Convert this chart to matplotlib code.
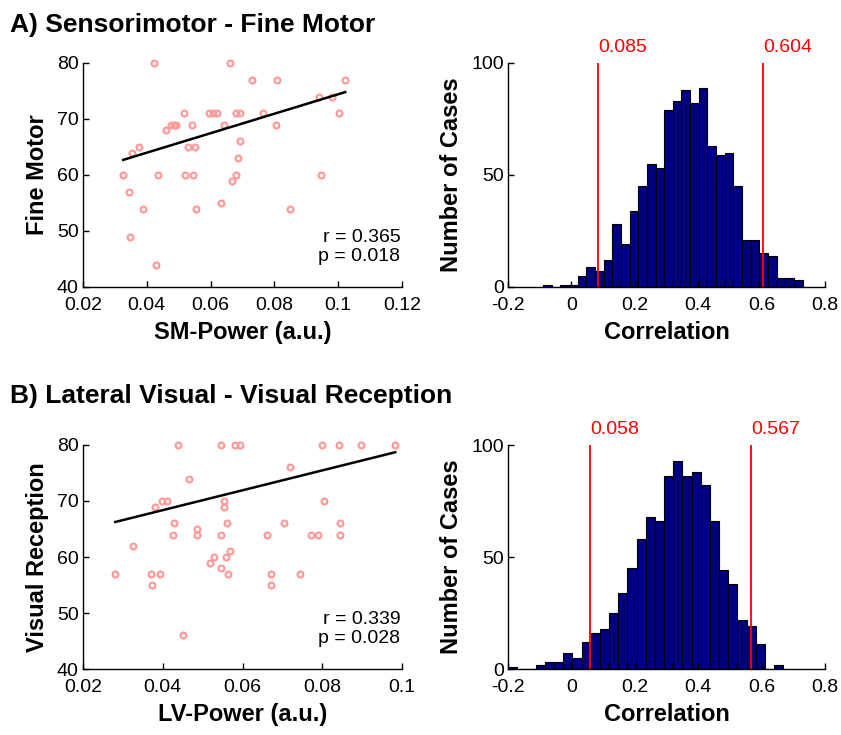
import numpy as np
import matplotlib
matplotlib.use("Agg")
import matplotlib.pyplot as plt

plt.rcParams['font.family'] = ['Liberation Sans', 'DejaVu Sans']

# A) Sensorimotor - Fine Motor : subjects (SM-Power, Fine Motor score)
sm_power = [0.0424, 0.066, 0.0731, 0.0807, 0.1022, 0.0939, 0.098, 0.0516,
            0.0594, 0.0606, 0.0621, 0.0681, 0.0691, 0.0763, 0.1001,
            0.0476, 0.0484, 0.049, 0.0541, 0.0642, 0.0805, 0.0459, 0.0693,
            0.0375, 0.0355, 0.053, 0.055, 0.0685, 0.0326, 0.0434, 0.052,
            0.0546, 0.068, 0.0946, 0.0666, 0.0345, 0.0632, 0.0387, 0.0555,
            0.0849, 0.0346, 0.0429]
fine_motor = [80, 80, 77, 77, 77, 74, 74, 71,
              71, 71, 71, 71, 71, 71, 71,
              69, 69, 69, 69, 69, 69, 68, 66,
              65, 64, 65, 65, 63, 60, 60, 60,
              60, 60, 60, 59, 57, 55, 54, 54,
              54, 49, 44]
fit_a = (173.9, 57.03)  # slope, intercept of the drawn regression line

# B) Lateral Visual - Visual Reception
lv_power = [0.0281, 0.0325, 0.037, 0.0374, 0.0394, 0.038, 0.0398, 0.041,
            0.0427, 0.0426, 0.0439, 0.0452, 0.0465, 0.0486, 0.0486, 0.0518,
            0.0529, 0.0547, 0.0546, 0.0553, 0.0553, 0.0546, 0.0558, 0.056,
            0.0568, 0.0563, 0.058, 0.0593, 0.0662, 0.0671, 0.0672, 0.0703,
            0.0719, 0.0743, 0.0773, 0.079, 0.08, 0.0805, 0.0841, 0.0845,
            0.0845, 0.0897, 0.0983]
visual_rec = [57, 62, 57, 55, 57, 69, 70, 70,
              66, 64, 80, 46, 74, 65, 64, 59,
              60, 80, 64, 70, 69, 58, 60, 66,
              61, 57, 80, 80, 64, 57, 55, 66,
              76, 57, 64, 64, 80, 70, 80, 66,
              64, 80, 80]
fit_b = (177.4, 61.27)

# permutation histograms (30 bins each)
hist_a_range = (-0.0897, 0.7297)
hist_a_counts = [1, 0, 1, 1, 5, 9, 7, 12, 28, 19, 34, 45, 55, 53, 79,
                 83, 88, 82, 89, 63, 59, 60, 45, 21, 21, 15, 14, 4, 4, 3]
hist_a_ci = [0.085, 0.604]

hist_b_range = (-0.199, 0.668)
hist_b_counts = [1, 0, 0, 2, 3, 3, 7, 5, 12, 16, 18, 25, 34, 45, 58,
                 68, 66, 86, 93, 86, 88, 82, 66, 44, 38, 22, 19, 11, 0, 2]
hist_b_ci = [0.058, 0.567]

stats_a = "r = 0.365\np = 0.018"
stats_b = "r = 0.339\np = 0.028"

W, H = 841, 735
fig = plt.figure(figsize=(W / 100, H / 100), dpi=100)

def box(l, t, r, b):
    return [l / W, 1 - b / H, (r - l) / W, (b - t) / H]

TICK = 14
LAB = 17

def style(ax):
    for s in ('top', 'right'):
        ax.spines[s].set_visible(False)
    for s in ('left', 'bottom'):
        ax.spines[s].set_linewidth(1.0)
    ax.tick_params(direction='in', length=4, width=1, labelsize=TICK)
    ax.tick_params(axis='x', pad=7)
    ax.tick_params(axis='y', pad=3)

def scatter_panel(ax, x, y, fit, xlim, xticks, xlabs, xlabel, ylabel, txt):
    ax.plot(x, y, 'o', ms=4.2, mfc='none', mec='#ff9a9a', mew=1.6, clip_on=False)
    xs = np.array([min(x), max(x)])
    ax.plot(xs, fit[0] * xs + fit[1], color='black', lw=1.8)
    ax.set_xlim(*xlim)
    ax.set_ylim(40, 80)
    ax.set_xticks(xticks)
    ax.set_xticklabels(xlabs)
    ax.set_yticks([40, 50, 60, 70, 80])
    ax.set_xlabel(xlabel, fontsize=LAB, fontweight='bold', labelpad=5)
    ax.set_ylabel(ylabel, fontsize=LAB, fontweight='bold', labelpad=6)
    ax.text(0.995, 0.1, txt, transform=ax.transAxes, ha='right', va='bottom',
            fontsize=TICK, linespacing=1.1)
    style(ax)

def hist_panel(ax, counts, rng, ci):
    edges = np.linspace(rng[0], rng[1], len(counts) + 1)
    ax.bar(edges[:-1], counts, width=np.diff(edges), align='edge',
           color='#000080', edgecolor='black', linewidth=0.8)
    for v in ci:
        ax.axvline(v, color='red', lw=1.3)
        ax.text(v, 103, f"{v:.3f}", color='red', fontsize=TICK,
                ha='left', va='bottom', clip_on=False)
    ax.set_xlim(-0.2, 0.8)
    ax.set_ylim(0, 100)
    ax.set_xticks([-0.2, 0, 0.2, 0.4, 0.6, 0.8])
    ax.set_xticklabels(['-0.2', '0', '0.2', '0.4', '0.6', '0.8'])
    ax.set_yticks([0, 50, 100])
    ax.set_xlabel('Correlation', fontsize=LAB, fontweight='bold', labelpad=5)
    ax.set_ylabel('Number of Cases', fontsize=LAB, fontweight='bold', labelpad=6)
    style(ax)

ax1 = fig.add_axes(box(83, 63, 402, 287))
scatter_panel(ax1, sm_power, fine_motor, fit_a, (0.02, 0.12),
              [0.02, 0.04, 0.06, 0.08, 0.1, 0.12],
              ['0.02', '0.04', '0.06', '0.08', '0.1', '0.12'],
              'SM-Power (a.u.)', 'Fine Motor', stats_a)

ax2 = fig.add_axes(box(508, 63, 825, 287))
hist_panel(ax2, hist_a_counts, hist_a_range, hist_a_ci)

ax3 = fig.add_axes(box(83, 445, 402, 669))
scatter_panel(ax3, lv_power, visual_rec, fit_b, (0.02, 0.1),
              [0.02, 0.04, 0.06, 0.08, 0.1],
              ['0.02', '0.04', '0.06', '0.08', '0.1'],
              'LV-Power (a.u.)', 'Visual Reception', stats_b)

ax4 = fig.add_axes(box(508, 445, 825, 669))
hist_panel(ax4, hist_b_counts, hist_b_range, hist_b_ci)

fig.text(10 / W, 1 - 32 / H, 'A) Sensorimotor - Fine Motor', fontsize=19,
         fontweight='bold', ha='left', va='baseline')
fig.text(10 / W, 1 - 403 / H, 'B) Lateral Visual - Visual Reception', fontsize=19,
         fontweight='bold', ha='left', va='baseline')

fig.savefig('out.png', dpi=100)
